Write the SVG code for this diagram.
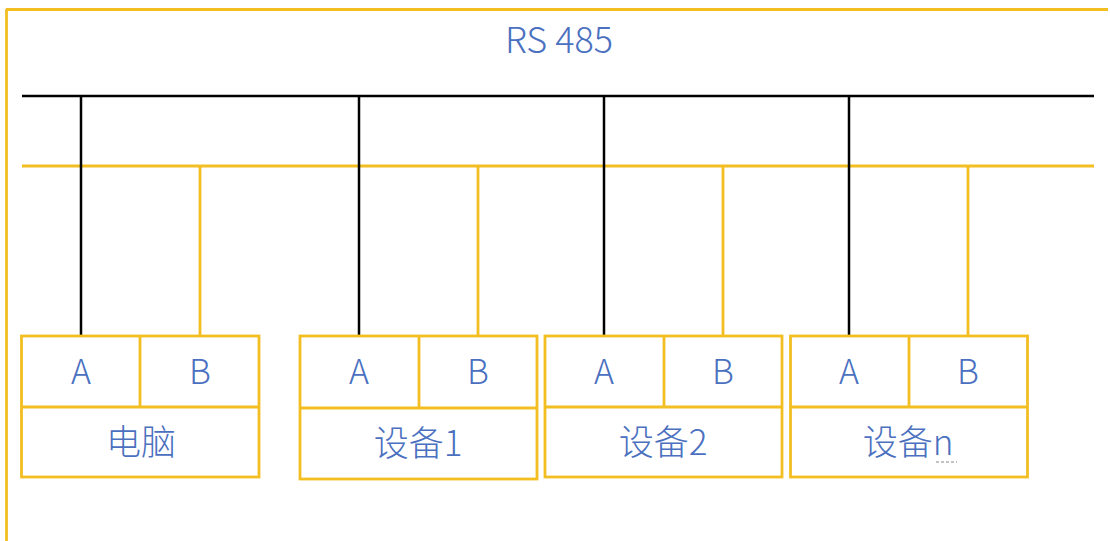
<svg xmlns="http://www.w3.org/2000/svg" width="1110" height="541" viewBox="0 0 1110 541">
<style>
.y{stroke:#F2BE22;stroke-width:2.8;fill:none}
.k{stroke:#000;stroke-width:2.5;fill:none}
.box{fill:#fff;stroke:#F2BE22;stroke-width:2.8}
.t{font-family:"Noto Sans CJK SC","Noto Sans",sans-serif;fill:#4A70BF;text-anchor:middle;font-size:34px;font-weight:300}
.c{font-size:35px}
</style>
<rect width="1110" height="541" fill="#fff"/>
<g id="frame">
<line class="y" x1="6" y1="9.5" x2="1108" y2="9.5"/>
<line class="y" x1="6.5" y1="9" x2="6.5" y2="541"/>
</g>
<text class="t" x="559" y="53" style="font-size:36px">RS 485</text>
<g id="connectors">
<line class="k" x1="22" y1="96" x2="1094" y2="96" stroke-width="3"/>
<line class="y" x1="22" y1="166" x2="1094" y2="166"/>
<line class="k" x1="81" y1="96" x2="81" y2="336"/>
<line class="y" x1="200" y1="166" x2="200" y2="336"/>
<line class="k" x1="359" y1="96" x2="359" y2="336"/>
<line class="y" x1="478" y1="166" x2="478" y2="336"/>
<line class="k" x1="604" y1="96" x2="604" y2="336"/>
<line class="y" x1="723" y1="166" x2="723" y2="336"/>
<line class="k" x1="849" y1="96" x2="849" y2="336"/>
<line class="y" x1="968" y1="166" x2="968" y2="336"/>
</g>
<g id="pc">
<rect class="box" x="21.5" y="336" width="237.5" height="141"/>
<line class="y" x1="21.5" y1="407" x2="259" y2="407"/>
<line class="y" x1="140" y1="336" x2="140" y2="407"/>
<text class="t" x="81" y="384">A</text>
<text class="t" x="200" y="384">B</text>
<text class="t c" x="141" y="455">电脑</text>
</g>
<g id="dev1">
<rect class="box" x="300" y="336" width="237" height="143"/>
<line class="y" x1="300" y1="408" x2="537" y2="408" stroke-width="3.5"/>
<line class="y" x1="419" y1="336" x2="419" y2="408"/>
<text class="t" x="359" y="384">A</text>
<text class="t" x="478" y="384">B</text>
<text class="t c" x="418" y="456">设备1</text>
</g>
<g id="dev2">
<rect class="box" x="545" y="336" width="237" height="141"/>
<line class="y" x1="545" y1="407" x2="782" y2="407"/>
<line class="y" x1="664" y1="336" x2="664" y2="407"/>
<text class="t" x="604" y="384">A</text>
<text class="t" x="723" y="384">B</text>
<text class="t c" x="663" y="455">设备2</text>
</g>
<g id="devn">
<rect class="box" x="790.5" y="336" width="237" height="141"/>
<line class="y" x1="790.5" y1="407" x2="1027.5" y2="407"/>
<line class="y" x1="909" y1="336" x2="909" y2="407"/>
<text class="t" x="849" y="384">A</text>
<text class="t" x="968" y="384">B</text>
<text class="t c" x="908" y="455">设备n</text>
<line x1="936" y1="462" x2="957" y2="462" stroke="#888" stroke-width="1" stroke-dasharray="3,2"/>
</g>
</svg>
